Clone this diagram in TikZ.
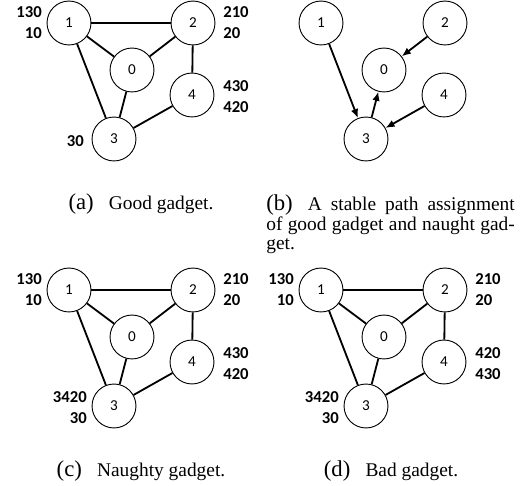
\documentclass[tikz,border=0pt]{standalone}
\usepackage{fontspec}
\setmainfont{Liberation Serif}
\newfontfamily\carlito{Carlito}
\usetikzlibrary{arrows.meta}

\tikzset{
  gnode/.style={circle, draw, line width=0.6pt, minimum size=29pt, inner sep=0pt,
    font=\carlito\fontsize{10}{12}\selectfont},
  gedge/.style={line width=1.2pt},
  garrow/.style={gedge, -{Latex[length=6pt,width=5pt]}},
  plabel/.style={inner sep=0pt, font=\carlito\bfseries\fontsize{11}{13}\selectfont},
  subcap/.style={inner sep=0pt, font=\fontsize{12.8}{12.2}\selectfont},
}
\newcommand{\sublabel}[1]{{\fontsize{15}{12.2}\selectfont #1}\hspace{10pt}}

% the five routers of one gadget, moved by #2
\newcommand{\routers}[2]{%
  \begin{scope}[shift={#2}]
    \node[gnode] (#1-1) at (69,23) {1};
    \node[gnode] (#1-2) at (193,23) {2};
    \node[gnode] (#1-0) at (132,70) {0};
    \node[gnode] (#1-4) at (192,95) {4};
    \node[gnode] (#1-3) at (114,139) {3};
  \end{scope}}
\newcommand{\links}[1]{%
  \foreach \u/\v in {1/2,1/0,1/3,2/0,2/4,0/3,4/3}
    \draw[gedge] (#1-\u) -- (#1-\v);}

\begin{document}
\begin{tikzpicture}[x=0.66pt, y=-0.66pt]
  \useasboundingbox (0,0) rectangle (521,486);

  % (a) good gadget
  \routers{a}{(0,0)}
  \links{a}
  \node[plabel, anchor=base east] (a-p1) at (42,18) {130};
  \node[plabel, anchor=base east] (a-q1) at (42,39) {10};
  \node[plabel, anchor=base west] (a-p2) at (223,18) {210};
  \node[plabel, anchor=base west] (a-q2) at (223,39) {20};
  \node[plabel, anchor=base west] (a-p4) at (223,92) {430};
  \node[plabel, anchor=base west] (a-q4) at (223,113) {420};
  \node[plabel, anchor=base east] (a-p3) at (84,147) {30};
  \node[subcap, anchor=base] (capa) at (141,210) {\sublabel{(a)}Good gadget.};

  % (b) stable path assignment
  \routers{b}{(252,0)}
  \draw[garrow] (b-1) -- (b-3);
  \draw[garrow] (b-2) -- (b-0);
  \draw[garrow] (b-3) -- (b-0);
  \draw[garrow] (b-4) -- (b-3);
  \node[subcap, text width=164pt, align=justify, anchor=north west] (capb) at (266,194.5)
    {\sublabel{(b)}A stable path assignment\linebreak of good gadget and naught gad-\linebreak get.};

  % (c) naughty gadget
  \routers{c}{(0,267)}
  \links{c}
  \node[plabel, anchor=base east] (c-p1) at (42,285) {130};
  \node[plabel, anchor=base east] (c-q1) at (42,306) {10};
  \node[plabel, anchor=base west] (c-p2) at (223,285) {210};
  \node[plabel, anchor=base west] (c-q2) at (223,306) {20};
  \node[plabel, anchor=base west] (c-p4) at (223,359) {430};
  \node[plabel, anchor=base west] (c-q4) at (223,380) {420};
  \node[plabel, anchor=base east] (c-p3) at (87,403) {3420};
  \node[plabel, anchor=base east] (c-q3) at (87,424) {30};
  \node[subcap, anchor=base] (capc) at (141,477) {\sublabel{(c)}Naughty gadget.};

  % (d) bad gadget
  \routers{d}{(252,267)}
  \links{d}
  \node[plabel, anchor=base east] (d-p1) at (294,285) {130};
  \node[plabel, anchor=base east] (d-q1) at (294,306) {10};
  \node[plabel, anchor=base west] (d-p2) at (475,285) {210};
  \node[plabel, anchor=base west] (d-q2) at (475,306) {20};
  \node[plabel, anchor=base west] (d-p4) at (475,359) {420};
  \node[plabel, anchor=base west] (d-q4) at (475,380) {430};
  \node[plabel, anchor=base east] (d-p3) at (339,403) {3420};
  \node[plabel, anchor=base east] (d-q3) at (339,424) {30};
  \node[subcap, anchor=base] (capd) at (391,477) {\sublabel{(d)}Bad gadget.};
\end{tikzpicture}
\end{document}
